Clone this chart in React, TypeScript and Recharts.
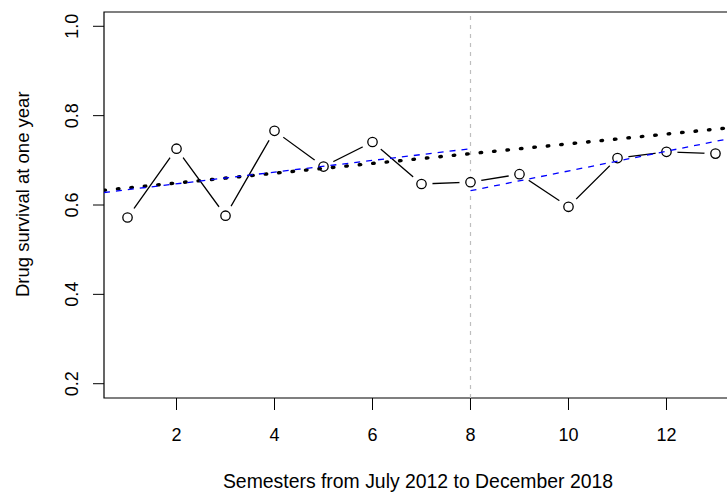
import React from "react"
import { Line, LineChart, ReferenceArea, ReferenceLine, XAxis, YAxis } from "recharts"

// drug survival at one year, per semester (Jul 2012 - Dec 2018)
const semesters = [1, 2, 3, 4, 5, 6, 7, 8, 9, 10, 11, 12, 13]
const survival = [0.572, 0.726, 0.576, 0.766, 0.686, 0.741, 0.647, 0.651, 0.669, 0.596, 0.705, 0.719, 0.715]

// fitted lines (x in semesters, y in survival)
const overallX = [0.52, 13.48]
const overallY = [0.633, 0.775]
const preX = [0.52, 8]
const preY = [0.628, 0.726]
const postX = [8, 13.48]
const postY = [0.632, 0.753]
const breakAt = 8

const xTicks = [2, 4, 6, 8, 10, 12]
const yTicks = [0.2, 0.4, 0.6, 0.8, 1.0]
const xDomain = [0.52, 13.48]
const yDomain = [0.168, 1.032]

const toPoints = (xs: number[], ys: number[]) => xs.map((x, i) => ({ x, y: ys[i] }))
const observed = toPoints(semesters, survival)
const overall = toPoints(overallX, overallY)
const pre = toPoints(preX, preY)
const post = toPoints(postX, postY)

const font = "'Liberation Sans', Arial, Helvetica, sans-serif"

const XTick = ({ x, y, payload }: any) => (
  <text x={x} y={y + 30.5} textAnchor="middle" fontSize={18} fontFamily={font} fill="#000">
    {payload.value}
  </text>
)

const YTick = ({ x, y, payload }: any) => (
  <text
    x={x - 15}
    y={y}
    textAnchor="middle"
    fontSize={18}
    fontFamily={font}
    fill="#000"
    transform={`rotate(-90, ${x - 15}, ${y})`}
  >
    {Number(payload.value).toFixed(1)}
  </text>
)

const OpenDot = ({ cx, cy, index }: any) => (
  <g key={`dot-${index}`}>
    <circle cx={cx} cy={cy} r={11} fill="#fff" stroke="none" />
    <circle cx={cx} cy={cy} r={4.7} fill="#fff" stroke="#000" strokeWidth={1.3} />
  </g>
)

export default function App() {
  return (
    <div
      style={{
        position: "absolute",
        left: 0,
        top: 0,
        width: 727,
        height: 493,
        overflow: "hidden",
        background: "#fff",
        fontFamily: font,
      }}
    >
      <LineChart width={760} height={493} margin={{ top: 12, right: 21, bottom: 35, left: 44 }}>
        <XAxis
          dataKey="x"
          type="number"
          domain={xDomain}
          ticks={xTicks}
          allowDataOverflow
          height={60}
          axisLine={false}
          tickSize={12}
          tickMargin={0}
          tickLine={{ stroke: "#000", strokeWidth: 1 }}
          tick={<XTick />}
        />
        <YAxis
          dataKey="y"
          type="number"
          domain={yDomain}
          ticks={yTicks}
          allowDataOverflow
          width={60}
          axisLine={false}
          tickSize={11}
          tickMargin={0}
          tickLine={{ stroke: "#000", strokeWidth: 1 }}
          tick={<YTick />}
        />
        <ReferenceArea
          x1={xDomain[0]}
          x2={xDomain[1]}
          y1={yDomain[0]}
          y2={yDomain[1]}
          fill="#fff"
          fillOpacity={0}
          stroke="#000"
          strokeWidth={1.2}
        />
        <ReferenceLine x={breakAt} stroke="#bebebe" strokeWidth={1.2} strokeDasharray="4 5" />
        <Line
          data={observed}
          dataKey="y"
          stroke="#000"
          strokeWidth={1.3}
          dot={<OpenDot />}
          activeDot={false}
          isAnimationActive={false}
          zIndex={300}
        />
        <Line
          data={overall}
          dataKey="y"
          stroke="#000"
          strokeWidth={3.4}
          strokeDasharray="1.5 12"
          strokeLinecap="round"
          dot={false}
          activeDot={false}
          isAnimationActive={false}
          zIndex={1500}
        />
        <Line
          data={pre}
          dataKey="y"
          stroke="#0000ff"
          strokeWidth={1.3}
          strokeDasharray="6 6"
          dot={false}
          activeDot={false}
          isAnimationActive={false}
          zIndex={1500}
        />
        <Line
          data={post}
          dataKey="y"
          stroke="#0000ff"
          strokeWidth={1.3}
          strokeDasharray="6 6"
          dot={false}
          activeDot={false}
          isAnimationActive={false}
          zIndex={1500}
        />
      </LineChart>
      <div
        style={{
          position: "absolute",
          left: 118,
          top: 471.6,
          width: 600,
          textAlign: "center",
          fontSize: 19.4,
          lineHeight: "19.4px",
          whiteSpace: "nowrap",
          color: "#000",
        }}
      >
        Semesters from July 2012 to December 2018
      </div>
      <div
        style={{
          position: "absolute",
          left: 22.8 - 200,
          top: 194 - 9.25,
          width: 400,
          height: 18.5,
          textAlign: "center",
          fontSize: 18.5,
          lineHeight: "18.5px",
          whiteSpace: "nowrap",
          color: "#000",
          transform: "rotate(-90deg)",
          transformOrigin: "50% 50%",
        }}
      >
        Drug survival at one year
      </div>
    </div>
  )
}
